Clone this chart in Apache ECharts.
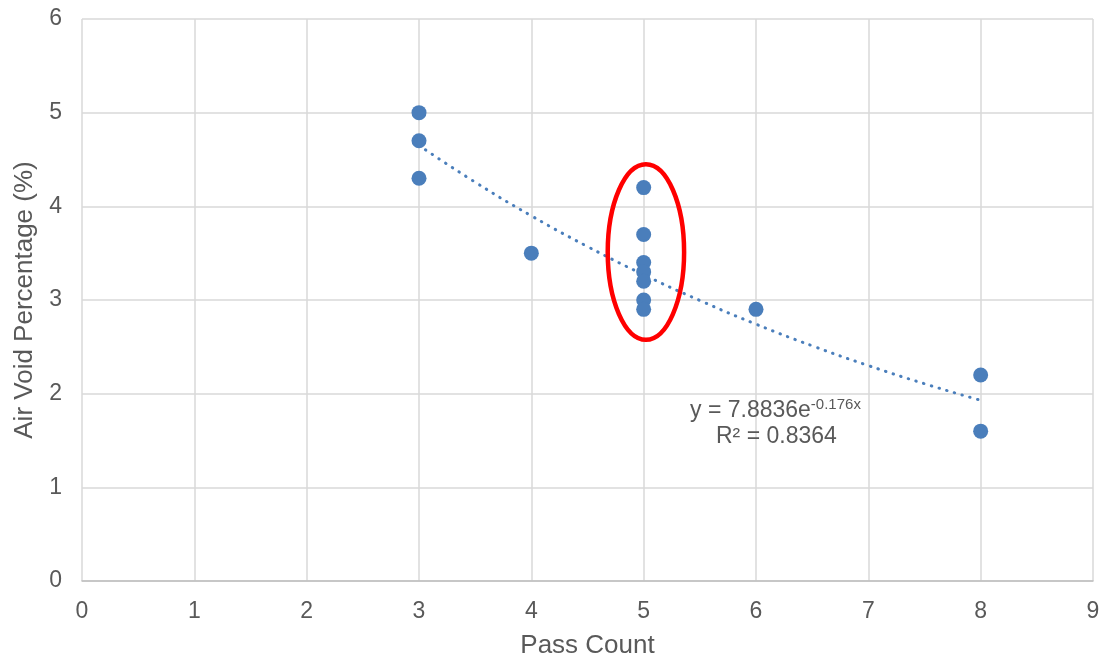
<!DOCTYPE html>
<html>
<head>
<meta charset="utf-8">
<script src="https://cdn.jsdelivr.net/npm/echarts@6/dist/echarts.min.js"></script>
<style>html,body{margin:0;padding:0;background:#fff}#c{width:1102px;height:661px}</style>
</head>
<body>
<div id="c"></div>
<script>
// Measured points (Pass Count, Air Void %)
var passCount = [3, 3, 3, 4, 5, 5, 5, 5, 5, 5, 5, 6, 8, 8];
var airVoid   = [5.0, 4.7, 4.3, 3.5, 4.2, 3.7, 3.4, 3.3, 3.2, 3.0, 2.9, 2.9, 2.2, 1.6];
// Exponential trendline values
var trendX = [3, 3.5, 4, 4.5, 5, 5.5, 6, 6.5, 7, 7.5, 8];
var trendY = [4.650, 4.258, 3.899, 3.571, 3.270, 2.995, 2.742, 2.511, 2.300, 2.106, 1.929];
var xTicks = [0, 1, 2, 3, 4, 5, 6, 7, 8, 9];
var yTicks = [0, 1, 2, 3, 4, 5, 6];
var equationText = ['y = 7.8836e', '-0.176x', 'R² = 0.8364'];
// Highlight ellipse (data coords): center and radii
var ellipseCenter = [5.02, 3.512];
var ellipseRadii = [0.34, 0.937];

var font = 'Liberation Sans, Arial, sans-serif';
var chart = echarts.init(document.getElementById('c'));
var pts = passCount.map(function (x, i) { return [x, airVoid[i]]; });
var trend = trendX.map(function (x, i) { return [x, trendY[i]]; });

chart.setOption({
  animation: false,
  grid: { left: 82, top: 19, right: 9, bottom: 80, containLabel: false, outerBoundsMode: 'none' },
  xAxis: {
    type: 'value', min: xTicks[0], max: xTicks[xTicks.length - 1], interval: 1,
    name: 'Pass Count', nameLocation: 'middle', nameGap: 52,
    nameTextStyle: { color: '#595959', fontSize: 26, fontFamily: font },
    axisLine: { show: true, lineStyle: { color: '#bfbfbf', width: 1.5 } },
    axisTick: { show: false },
    axisLabel: { color: '#595959', fontSize: 23, fontFamily: font, margin: 19 },
    splitLine: { show: true, lineStyle: { color: '#d9d9d9', width: 1.5 } }
  },
  yAxis: {
    type: 'value', min: yTicks[0], max: yTicks[yTicks.length - 1], interval: 1,
    name: 'Air Void Percentage (%)', nameLocation: 'middle', nameGap: 41,
    nameTextStyle: { color: '#595959', fontSize: 26, fontFamily: font },
    axisLine: { show: false },
    axisTick: { show: false },
    axisLabel: { color: '#595959', fontSize: 23, fontFamily: font, margin: 20 },
    splitLine: { show: true, lineStyle: { color: '#d9d9d9', width: 1.5 } }
  },
  series: [
    {
      type: 'line', data: trend, smooth: true, symbol: 'none', z: 1,
      lineStyle: { color: '#4a7ebb', width: 3, type: [0.5, 7.5], cap: 'round' }
    },
    {
      type: 'scatter', data: pts, symbolSize: 15, z: 3,
      itemStyle: { color: '#4a7ebb', opacity: 1 }
    }
  ]
});

var c = chart.convertToPixel({ gridIndex: 0 }, ellipseCenter);
var e = chart.convertToPixel({ gridIndex: 0 }, [ellipseCenter[0] + ellipseRadii[0], ellipseCenter[1] + ellipseRadii[1]]);
chart.setOption({
  graphic: [
    {
      type: 'ellipse', z: 10,
      shape: { cx: c[0], cy: c[1], rx: Math.abs(e[0] - c[0]), ry: Math.abs(c[1] - e[1]) },
      style: { fill: 'none', stroke: '#ff0000', lineWidth: 4.5 }
    },
    {
      type: 'text', z: 10, left: 690, top: 397,
      style: {
        text: '{a|' + equationText[0] + '}{s|' + equationText[1] + '}',
        rich: {
          a: { fontSize: 23, fontFamily: font, fill: '#595959', verticalAlign: 'bottom' },
          s: { fontSize: 15, fontFamily: font, fill: '#595959', verticalAlign: 'top', padding: [0, 0, 10, 0] }
        }
      }
    },
    {
      type: 'text', z: 10, left: 716, top: 425,
      style: { text: equationText[2], fontSize: 23, fontFamily: font, fill: '#595959' }
    }
  ]
});
</script>
</body>
</html>
